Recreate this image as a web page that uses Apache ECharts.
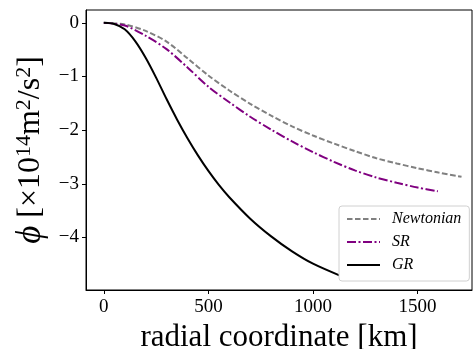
<!DOCTYPE html>
<html><head><meta charset="utf-8">
<script src="https://cdn.jsdelivr.net/npm/echarts@6/dist/echarts.min.js"></script>
<style>html,body{margin:0;padding:0;background:#fff}#c{width:473px;height:349px}</style>
</head><body><div id="c"></div>
<script>
const xTicks = [0, 500, 1000, 1500];
const yTicks = [0, -1, -2, -3, -4];
const newtonianR = [0,100,200,300,400,500,600,700,800,900,1000,1100,1200,1300,1400,1500,1600,1710];
const newtonianPhi = [0,-0.03,-0.15,-0.35,-0.66,-0.98,-1.26,-1.51,-1.73,-1.93,-2.10,-2.25,-2.39,-2.52,-2.62,-2.71,-2.79,-2.87];
const srR = [0,100,200,300,400,500,600,700,800,900,1000,1100,1200,1300,1400,1500,1597];
const srPhi = [0,-0.05,-0.24,-0.49,-0.83,-1.19,-1.48,-1.75,-1.99,-2.21,-2.41,-2.59,-2.75,-2.88,-2.98,-3.07,-3.14];
const grR = [0,50,100,150,200,250,300,350,400,450,500,550,600,700,800,900,1000,1140];
const grPhi = [0,-0.02,-0.12,-0.34,-0.65,-1.02,-1.42,-1.80,-2.15,-2.47,-2.76,-3.02,-3.25,-3.65,-3.98,-4.26,-4.49,-4.73];

const zip = (a,b) => a.map((v,i)=>[v,b[i]]);
const serif = 'Liberation Serif';
const chart = echarts.init(document.getElementById('c'));
chart.setOption({
  animation: false,
  backgroundColor: '#fff',
  grid: {left: 86, right: 1, top: 10, bottom: 59, show: true, borderColor: '#000', borderWidth: 1,
    containLabel: false, outerBoundsMode: 'none'},
  legend: {
    orient: 'vertical', left: 339, top: 206,
    backgroundColor: '#fff', borderColor: '#d0d0d0', borderWidth: 1, borderRadius: 3,
    padding: [5, 8, 8, 7], itemGap: 7, itemWidth: 33, itemHeight: 16,
    itemStyle: {opacity: 0},
    textStyle: {fontFamily: serif, fontStyle: 'italic', fontSize: 16, color: '#000', padding: [0, 0, 0, 7]},
    data: ['Newtonian', 'SR', 'GR']
  },
  xAxis: {
    type: 'value', min: -85, max: 1760,
    splitLine: {show: false},
    axisLine: {show: true, onZero: false, lineStyle: {color: '#000', width: 1}},
    axisTick: {show: true, inside: false, length: 4, lineStyle: {color: '#000'}, customValues: xTicks},
    axisLabel: {customValues: xTicks, fontFamily: serif, fontSize: 19, color: '#000', margin: 8,
      formatter: v => String(v)},
    name: 'radial coordinate [km]', nameLocation: 'middle', nameGap: 28,
    nameTextStyle: {fontFamily: serif, fontSize: 31, color: '#000'}
  },
  yAxis: {
    type: 'value', min: -4.98, max: 0.24,
    splitLine: {show: false},
    axisLine: {show: true, onZero: false, lineStyle: {color: '#000', width: 1}},
    axisTick: {show: true, inside: false, length: 4, lineStyle: {color: '#000'}, customValues: yTicks},
    axisLabel: {customValues: yTicks, fontFamily: serif, fontSize: 19, color: '#000', margin: 7,
      formatter: v => (v < 0 ? '\u2212' + Math.abs(v) : String(v))},
    name: '{p|\u03d5} [\u00d710{s|14}m{s|2}/s{s|2}]', nameLocation: 'middle', nameGap: 38, nameRotate: 90,
    nameTextStyle: {fontFamily: serif, fontSize: 32, color: '#000',
      rich: {
        p: {fontFamily: serif, fontSize: 35, fontStyle: 'italic', color: '#000', verticalAlign: 'bottom'},
        s: {fontFamily: serif, fontSize: 22, color: '#000', verticalAlign: 'top'}
      }}
  },
  series: [
    {name: 'Newtonian', type: 'line', data: zip(newtonianR, newtonianPhi), smooth: 0.3, showSymbol: false, symbol: 'none',
      lineStyle: {color: '#808080', width: 2, type: [5.5, 2.5]}, itemStyle: {color: '#808080'}},
    {name: 'SR', type: 'line', data: zip(srR, srPhi), smooth: 0.3, showSymbol: false, symbol: 'none',
      lineStyle: {color: '#800080', width: 2, type: [9, 2.5, 2, 2.5]}, itemStyle: {color: '#800080'}},
    {name: 'GR', type: 'line', data: zip(grR, grPhi), smooth: 0.3, showSymbol: false, symbol: 'none',
      lineStyle: {color: '#000', width: 2, type: 'solid'}, itemStyle: {color: '#000'}}
  ]
});
</script></body></html>
